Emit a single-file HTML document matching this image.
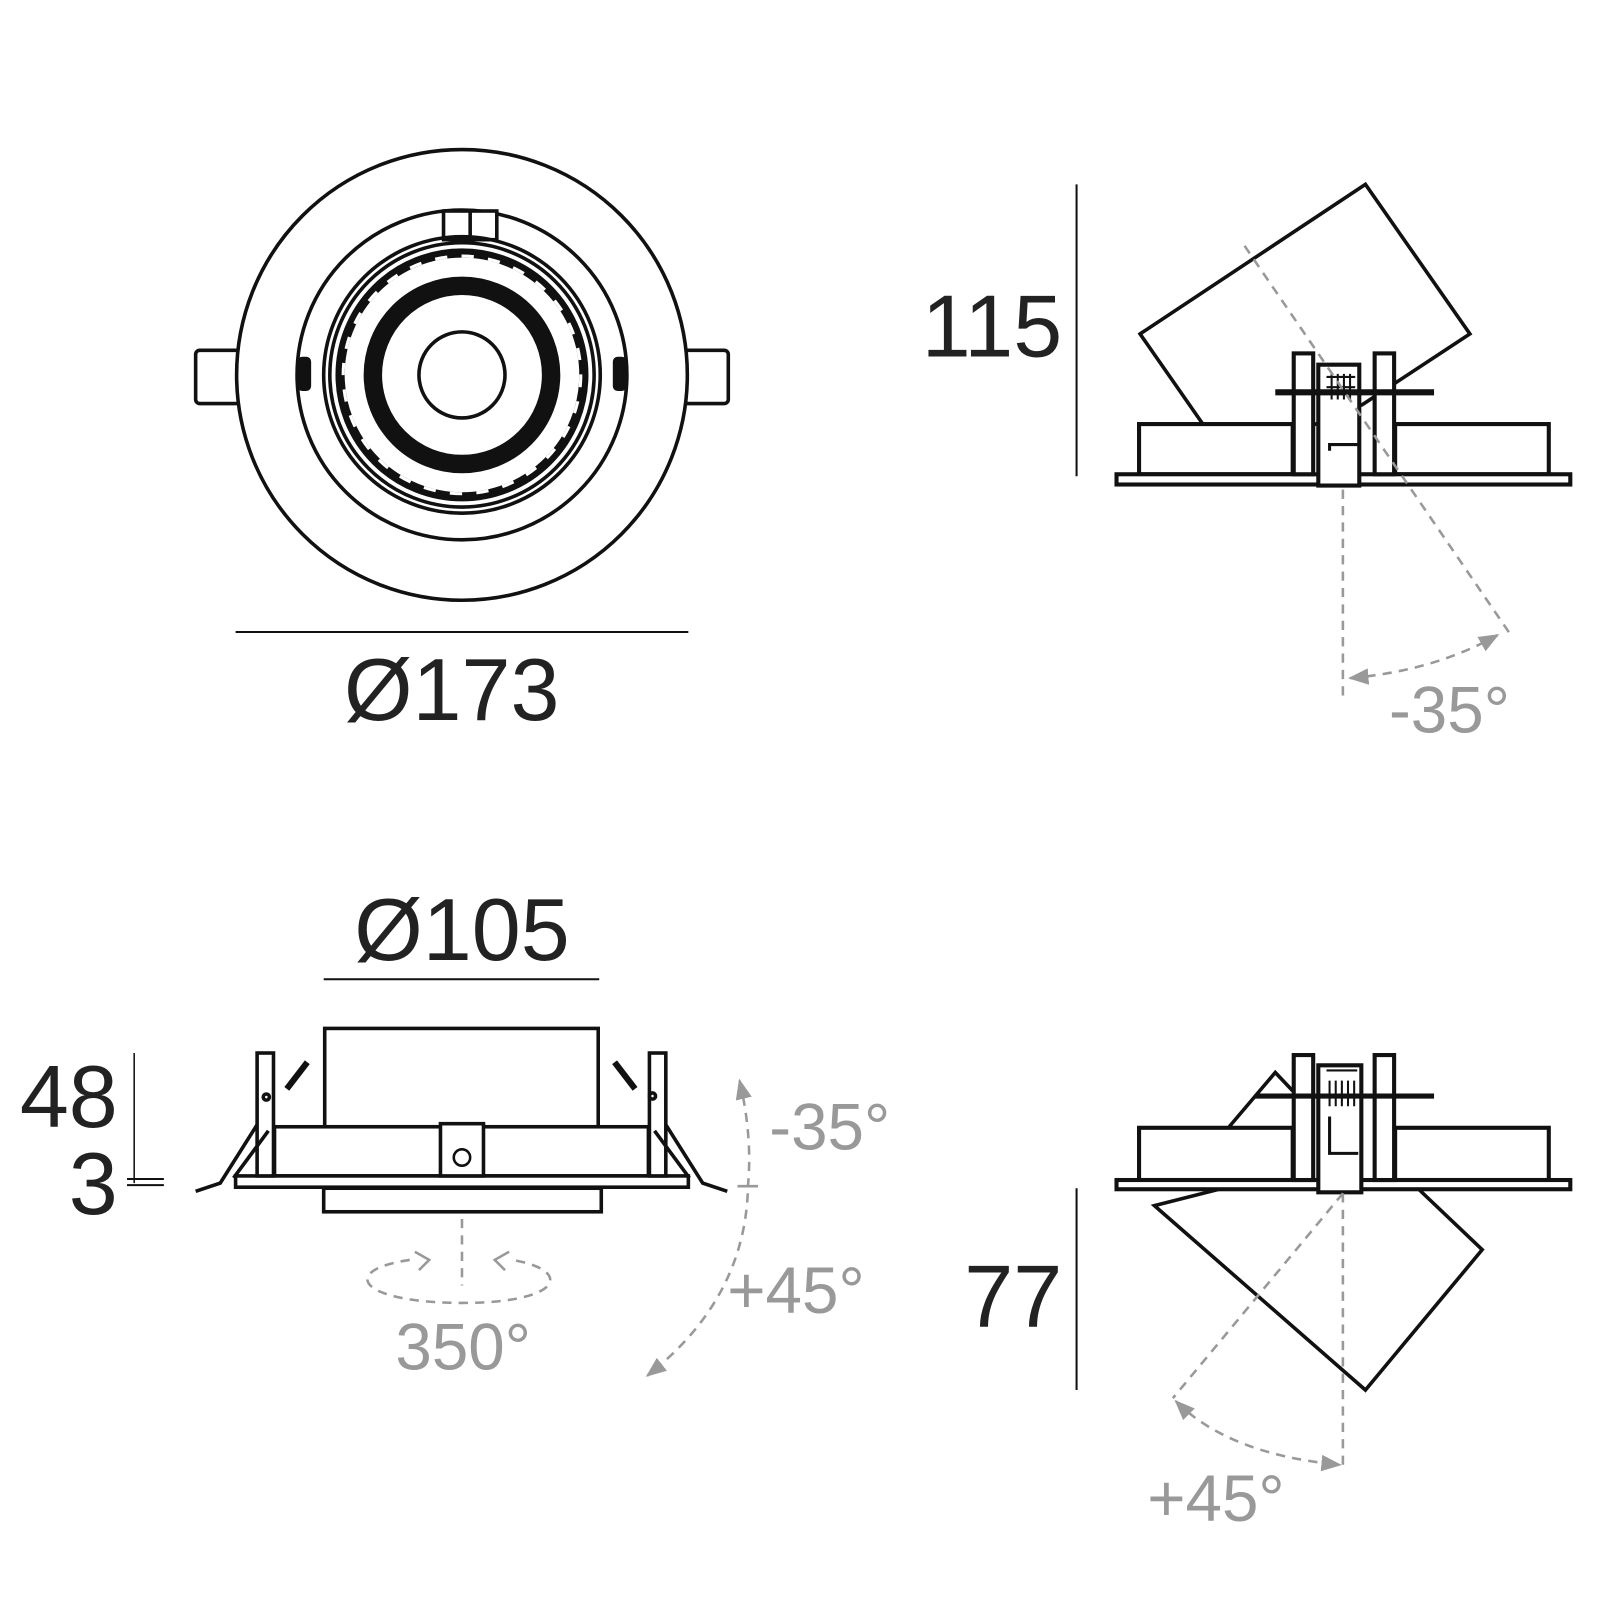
<!DOCTYPE html>
<html><head><meta charset="utf-8"><style>
html,body{margin:0;padding:0;background:#fff;}
svg{display:block;}
text{font-family:"Liberation Sans",sans-serif;}
</style></head><body>
<svg width="1600" height="1600" viewBox="0 0 1562 1562" xmlns="http://www.w3.org/2000/svg">
<defs>
<marker id="ar" viewBox="0 0 10 10" refX="9" refY="5" markerWidth="8" markerHeight="8" orient="auto-start-reverse"><path d="M0,1 L10,5 L0,9 z" fill="#999"/></marker>
</defs>
<g fill="none" stroke="#111" stroke-width="3.5">
<!-- TOP VIEW -->
<rect x="191" y="342" width="44" height="52" rx="4" fill="#fff"/>
<rect x="667" y="342" width="44" height="52" rx="4" fill="#fff"/>
<circle cx="451" cy="366" r="220" fill="#fff"/>
<circle cx="451" cy="366" r="161"/>
<rect x="433" y="206" width="52" height="28" fill="#fff"/>
<line x1="459" y1="206" x2="459" y2="234"/>
<circle cx="451" cy="366" r="135" stroke-width="3.5"/>
<circle cx="451" cy="366" r="129" stroke-width="3.5"/>
<circle cx="451" cy="366" r="119" stroke-width="9"/>
<circle cx="451" cy="366" r="116" stroke="#fff" stroke-width="3" stroke-dasharray="12 14"/>
<circle cx="451" cy="366" r="87" stroke-width="18"/>
<circle cx="451" cy="366" r="42"/>
<rect x="292" y="350" width="10" height="30" rx="3" fill="#111"/>
<rect x="600" y="350" width="10" height="30" rx="3" fill="#111"/>
<line x1="230" y1="617" x2="672" y2="617" stroke-width="2"/>

<!-- TOP RIGHT -->
<line x1="1051" y1="180" x2="1051" y2="465" stroke-width="2"/>
<polygon points="1113,326 1333,180 1435,326 1330,395 1270,420 1175,415" fill="#fff"/>
<rect x="1112" y="414" width="150" height="49" fill="#fff" stroke-width="4"/>
<rect x="1362" y="414" width="150" height="49" fill="#fff" stroke-width="4"/>
<rect x="1090" y="463" width="443" height="10" fill="#fff" stroke-width="4"/>
<rect x="1263" y="345" width="19" height="118" fill="#fff" stroke-width="4"/>
<rect x="1342" y="345" width="19" height="118" fill="#fff" stroke-width="4"/>
<path d="M1287 356 h40 v118 h-40 z" fill="#fff" stroke-width="4"/>
<line x1="1245" y1="383" x2="1400" y2="383" stroke-width="6"/>
<path d="M1295 368 h28 M1295 378 h28 M1300 365 v25 M1306 365 v25 M1312 365 v25 M1318 365 v25" stroke-width="2"/>
<path d="M1298 440 v-6 h28" stroke-width="3"/>
</g>
<g fill="none" stroke="#999" stroke-width="2.5" stroke-dasharray="9 7">
<line x1="1215" y1="240" x2="1475" y2="620"/>
<line x1="1311" y1="478" x2="1311" y2="680"/>
<path d="M1318 662 Q1400 655 1462 620" marker-start="url(#ar)" marker-end="url(#ar)"/>
</g>

<!-- BOTTOM LEFT -->
<g fill="none" stroke="#111" stroke-width="3.5">
<line x1="316" y1="956" x2="585" y2="956" stroke-width="2"/>
<rect x="317" y="1004" width="267" height="96" fill="#fff"/>
<rect x="268" y="1100" width="365" height="48" fill="#fff"/>
<rect x="230" y="1148" width="442" height="11" fill="#fff"/>
<rect x="316" y="1160" width="271" height="23" fill="#fff"/>
<rect x="251" y="1028" width="16" height="120" fill="#fff"/>
<rect x="634" y="1028" width="16" height="120" fill="#fff"/>
<path d="M251 1098 L215 1155 L191 1163" />
<path d="M262 1104 L228 1150"/>
<path d="M650 1098 L686 1155 L710 1163"/>
<path d="M639 1104 L673 1150"/>
<path d="M280 1063 L300 1037" stroke-width="6"/>
<path d="M620 1063 L600 1037" stroke-width="6"/>
<circle cx="260" cy="1071" r="3"/>
<circle cx="637" cy="1070" r="3"/>
<rect x="430" y="1097" width="42" height="51" fill="#fff"/>
<circle cx="451" cy="1130" r="8" stroke-width="2.5"/>
<line x1="131" y1="1028" x2="131" y2="1155" stroke-width="1.5"/>
<line x1="124" y1="1151" x2="160" y2="1151" stroke-width="2"/>
<line x1="124" y1="1157" x2="160" y2="1157" stroke-width="2"/>
</g>
<g fill="none" stroke="#999" stroke-width="2.5" stroke-dasharray="9 7">
<line x1="451" y1="1190" x2="451" y2="1255"/>
<path d="M400 1230 C330 1240 350 1272 451 1272 C550 1272 560 1240 500 1230"/>
<path d="M722 1055 Q735 1110 730 1160" marker-start="url(#ar)"/>
<path d="M730 1165 Q725 1270 632 1343" marker-end="url(#ar)"/>
<line x1="720" y1="1158" x2="740" y2="1158" stroke-dasharray="none"/>
</g>
<path d="M405 1222 l14 8 -10 10 M497 1222 l-14 8 10 10" fill="none" stroke="#999" stroke-width="2.5"/>

<!-- BOTTOM RIGHT -->
<g fill="none" stroke="#111" stroke-width="3.5">
<line x1="1051" y1="1160" x2="1051" y2="1357" stroke-width="2"/>
<polygon points="1127,1177 1190,1161 1385,1161 1447,1220 1333,1357" fill="#fff"/>
<path d="M1200 1100 L1245 1047 L1262 1065" fill="#fff"/>
<rect x="1112" y="1101" width="150" height="51" fill="#fff" stroke-width="4"/>
<rect x="1362" y="1101" width="150" height="51" fill="#fff" stroke-width="4"/>
<rect x="1090" y="1152" width="443" height="9" fill="#fff" stroke-width="4"/>
<rect x="1263" y="1030" width="19" height="122" fill="#fff" stroke-width="4"/>
<rect x="1342" y="1030" width="19" height="122" fill="#fff" stroke-width="4"/>
<path d="M1287 1040 h42 v124 h-42 z" fill="#fff" stroke-width="4"/>
<line x1="1225" y1="1070" x2="1400" y2="1070" stroke-width="5"/>
<path d="M1295 1045 h30 M1298 1055 v25 M1304 1055 v25 M1310 1055 v25 M1316 1055 v25 M1322 1055 v25" stroke-width="2"/>
<path d="M1298 1090 v36 h28" stroke-width="3"/>
</g>
<g fill="none" stroke="#999" stroke-width="2.5" stroke-dasharray="9 7">
<line x1="1311" y1="1165" x2="1145" y2="1365"/>
<line x1="1311" y1="1165" x2="1311" y2="1430"/>
<path d="M1148 1368 Q1200 1420 1308 1430" marker-start="url(#ar)" marker-end="url(#ar)"/>
</g>

<!-- TEXT -->
<g font-size="86" fill="#222">
<text x="441" y="703" text-anchor="middle">Ø173</text>
<text x="1037" y="348" text-anchor="end">115</text>
<text x="451" y="937" text-anchor="middle">Ø105</text>
<text x="115" y="1100" text-anchor="end">48</text>
<text x="115" y="1185" text-anchor="end">3</text>
<text x="1037" y="1295" text-anchor="end">77</text>
</g>
<g font-size="64" fill="#999">
<text x="1356" y="715">-35°</text>
<text x="751" y="1122">-35°</text>
<text x="710" y="1282">+45°</text>
<text x="386" y="1337">350°</text>
<text x="1120" y="1485">+45°</text>
</g>
</svg>
</body></html>
